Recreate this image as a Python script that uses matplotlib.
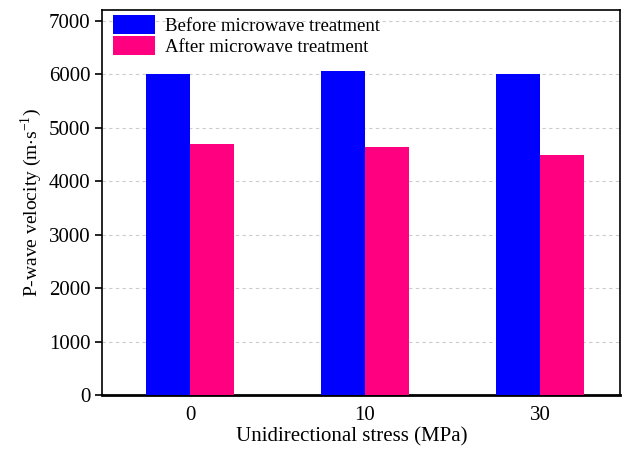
import matplotlib
matplotlib.use("Agg")
import matplotlib.pyplot as plt
import numpy as np

categories = ["0", "10", "30"]
before = [6010, 6065, 5995]
after = [4700, 4645, 4495]
series_labels = ["Before microwave treatment", "After microwave treatment"]

plt.rcParams['font.family'] = ['Liberation Serif', 'DejaVu Serif']
plt.rcParams['mathtext.fontset'] = 'stix'

fig = plt.figure(figsize=(6.3, 4.51), dpi=100)
ax = fig.add_axes([102/630, 1-395/451, 518/630, 385/451])

x = np.arange(len(categories))
w = 0.25
ax.bar(x - w/2, before, w, color='#0000FF', label=series_labels[0], zorder=3)
ax.bar(x + w/2, after, w, color='#FF0080', label=series_labels[1], zorder=3)

ax.set_xlim(-0.503, 2.457)
ax.set_ylim(0, 7200)
ax.set_yticks(np.arange(0, 7001, 1000))
ax.set_xticks(x)
ax.set_xticklabels(categories)
ax.yaxis.grid(True, linestyle=(0, (3, 3)), color='#cccccc', linewidth=0.8, zorder=0)
ax.tick_params(axis='y', direction='out', length=5, labelsize=15, width=1.2)
ax.tick_params(axis='x', length=0, labelsize=15, pad=8)
for s in ax.spines.values():
    s.set_linewidth(1.2)
ax.spines['bottom'].set_linewidth(2)
ax.set_xlabel("Unidirectional stress (MPa)", fontsize=15)
ax.xaxis.set_label_coords(0.483, -0.085)
ax.set_ylabel("P-wave velocity (m$\\cdot$s$^{\\mathregular{-1}}$)", fontsize=14)
ax.yaxis.set_label_coords(-0.112, 0.5)

ax.legend(loc='upper left', frameon=False, fontsize=13.5, handlelength=2.24, handleheight=1.17,
          borderaxespad=0.0, borderpad=0.28, labelspacing=0.06, handletextpad=0.53,
          bbox_to_anchor=(0.0105, 1.0))

fig.savefig("out.png", dpi=100)
